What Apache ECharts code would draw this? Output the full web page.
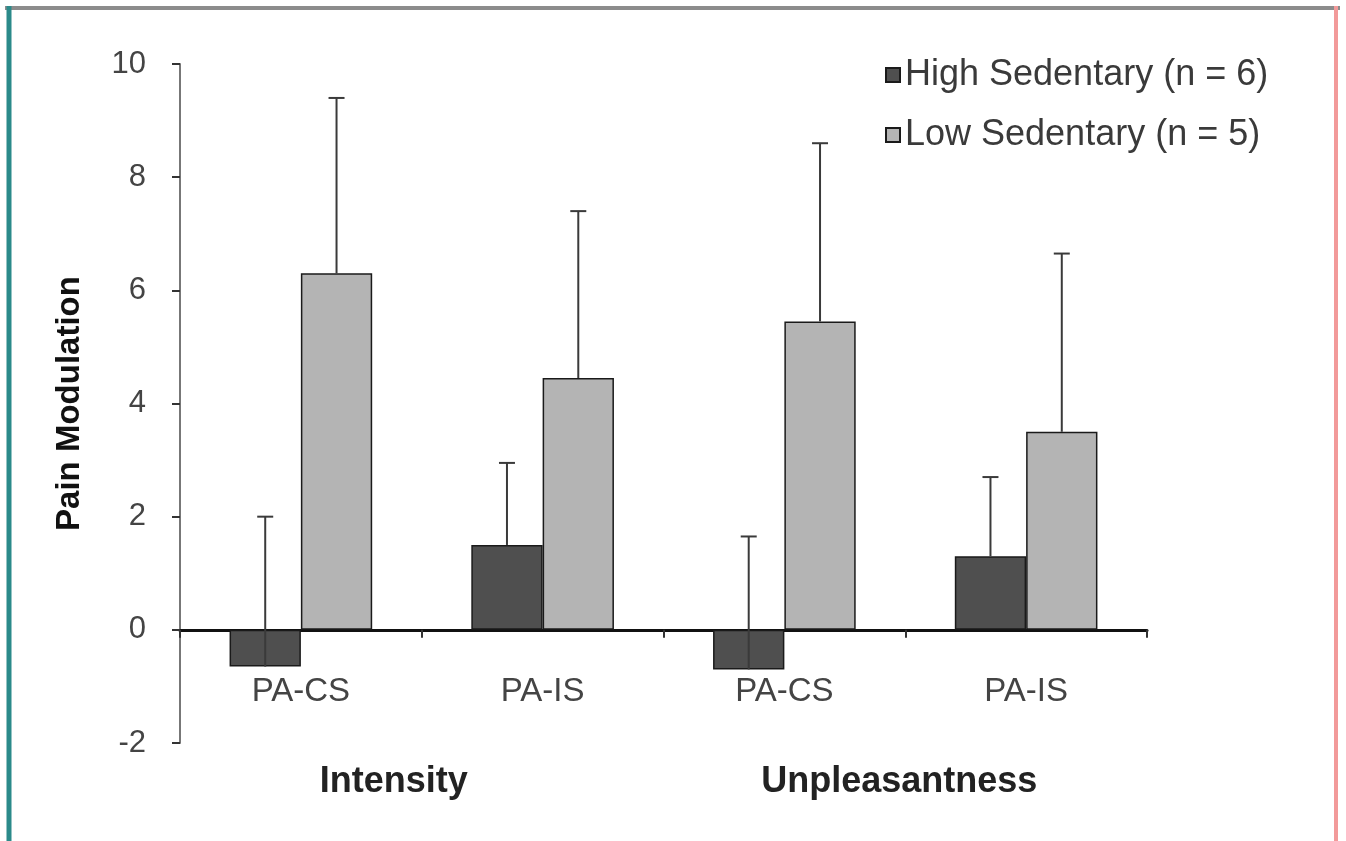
<!DOCTYPE html>
<html>
<head>
<meta charset="utf-8">
<script src="https://cdn.jsdelivr.net/npm/echarts@6/dist/echarts.min.js"></script>
<style>
html,body{margin:0;padding:0;background:#fff;}
#chart{width:1346px;height:841px;}
</style>
</head>
<body>
<div id="chart"></div>
<script>
const categories = ['PA-CS', 'PA-IS', 'PA-CS', 'PA-IS'];
const groups = ['Intensity', 'Unpleasantness'];
const seriesNames = ['High Sedentary (n = 6)', 'Low Sedentary (n = 5)'];
const highValues = [-0.65, 1.5, -0.7, 1.3];
const highErrors = [2.65, 1.45, 2.35, 1.4];
const lowValues = [6.3, 4.45, 5.45, 3.5];
const lowErrors = [3.1, 2.95, 3.15, 3.15];
const yTicks = [-2, 0, 2, 4, 6, 8, 10];

const GAP = 0.41;
const font = '"Liberation Sans", Arial, sans-serif';

function errorSeries(values, errors, side) {
  return {
    type: 'custom',
    xAxisIndex: 0,
    z: 5,
    silent: true,
    data: values.map((v, i) => [i, v, errors[i]]),
    renderItem: function (params, api) {
      const idx = api.value(0), v = api.value(1), e = api.value(2);
      const band = api.size([1, 0])[0];
      const barW = band * (1 - GAP) / 2;
      const p0 = api.coord([idx, v]);
      const p1 = api.coord([idx, v + e]);
      const x = p0[0] + side * barW / 2;
      const cap = 8;
      const st = { stroke: '#3a3a3a', lineWidth: 2 };
      return {
        type: 'group',
        children: [
          { type: 'line', shape: { x1: x, y1: p0[1], x2: x, y2: p1[1] }, style: st },
          { type: 'line', shape: { x1: x - cap, y1: p1[1], x2: x + cap, y2: p1[1] }, style: st }
        ]
      };
    }
  };
}

const chart = echarts.init(document.getElementById('chart'));
chart.setOption({
  backgroundColor: '#ffffff',
  animation: false,
  textStyle: { fontFamily: font },
  grid: { left: 180, right: 199, top: 64, bottom: 98 },
  legend: {
    orient: 'vertical',
    left: 880,
    top: 52,
    itemWidth: 14,
    itemHeight: 14,
    itemGap: 24,
    icon: 'rect',
    data: seriesNames,
    textStyle: { fontSize: 36, color: '#3a3a3a', fontFamily: font }
  },
  xAxis: [
    {
      type: 'category',
      data: categories,
      position: 'bottom',
      axisLine: { show: false, onZero: false },
      axisTick: { show: false },
      axisLabel: { fontSize: 33, color: '#444', margin: -68, fontFamily: font },
      splitLine: { show: false }
    },
    {
      type: 'category',
      data: groups,
      position: 'bottom',
      axisLine: { show: false, onZero: false },
      axisTick: { show: false },
      axisLabel: {
        margin: 21,
        formatter: function (v, i) { return i === 0 ? '{a|' + v + '}' : '{b|' + v + '}'; },
        rich: {
          a: { fontSize: 36, fontWeight: 'bold', color: '#222', padding: [0, 56, 0, 0], fontFamily: font },
          b: { fontSize: 36, fontWeight: 'bold', color: '#222', padding: [0, 12, 0, 0], fontFamily: font }
        }
      },
      splitLine: { show: false }
    },
    {
      type: 'category',
      data: categories,
      position: 'bottom',
      axisLine: { show: true, onZero: true, lineStyle: { color: '#111', width: 3 } },
      axisTick: { show: true, length: 8, lineStyle: { color: '#333', width: 2 } },
      axisLabel: { show: false },
      splitLine: { show: false }
    }
  ],
  yAxis: {
    type: 'value',
    min: yTicks[0],
    max: yTicks[yTicks.length - 1],
    interval: 2,
    name: 'Pain Modulation',
    nameLocation: 'middle',
    nameGap: 94,
    nameTextStyle: { fontSize: 33, fontWeight: 'bold', color: '#111', fontFamily: font },
    axisLine: { show: true, lineStyle: { color: '#777', width: 2 } },
    axisTick: { show: true, length: 8, lineStyle: { color: '#333', width: 2 } },
    axisLabel: { fontSize: 31, color: '#444', margin: 34, fontFamily: font },
    splitLine: { show: false }
  },
  series: [
    {
      name: seriesNames[0],
      type: 'bar',
      data: highValues,
      barGap: '0%',
      barCategoryGap: (GAP * 100) + '%',
      itemStyle: { color: '#4f4f4f', borderColor: '#1a1a1a', borderWidth: 1.5 }
    },
    {
      name: seriesNames[1],
      type: 'bar',
      data: lowValues,
      barGap: '0%',
      barCategoryGap: (GAP * 100) + '%',
      itemStyle: { color: '#b4b4b4', borderColor: '#1a1a1a', borderWidth: 1.5 }
    },
    errorSeries(highValues, highErrors, -1),
    errorSeries(lowValues, lowErrors, 1)
  ],
  graphic: [
    { type: 'line', shape: { x1: 5, y1: 8, x2: 1340, y2: 8 }, style: { stroke: '#8c8c8c', lineWidth: 4 } },
    { type: 'line', shape: { x1: 9, y1: 6, x2: 9, y2: 841 }, style: { stroke: '#2b8a8a', lineWidth: 5 } },
    { type: 'line', shape: { x1: 1336, y1: 6, x2: 1336, y2: 841 }, style: { stroke: '#f29a9a', lineWidth: 4 } }
  ]
});
</script>
</body>
</html>
